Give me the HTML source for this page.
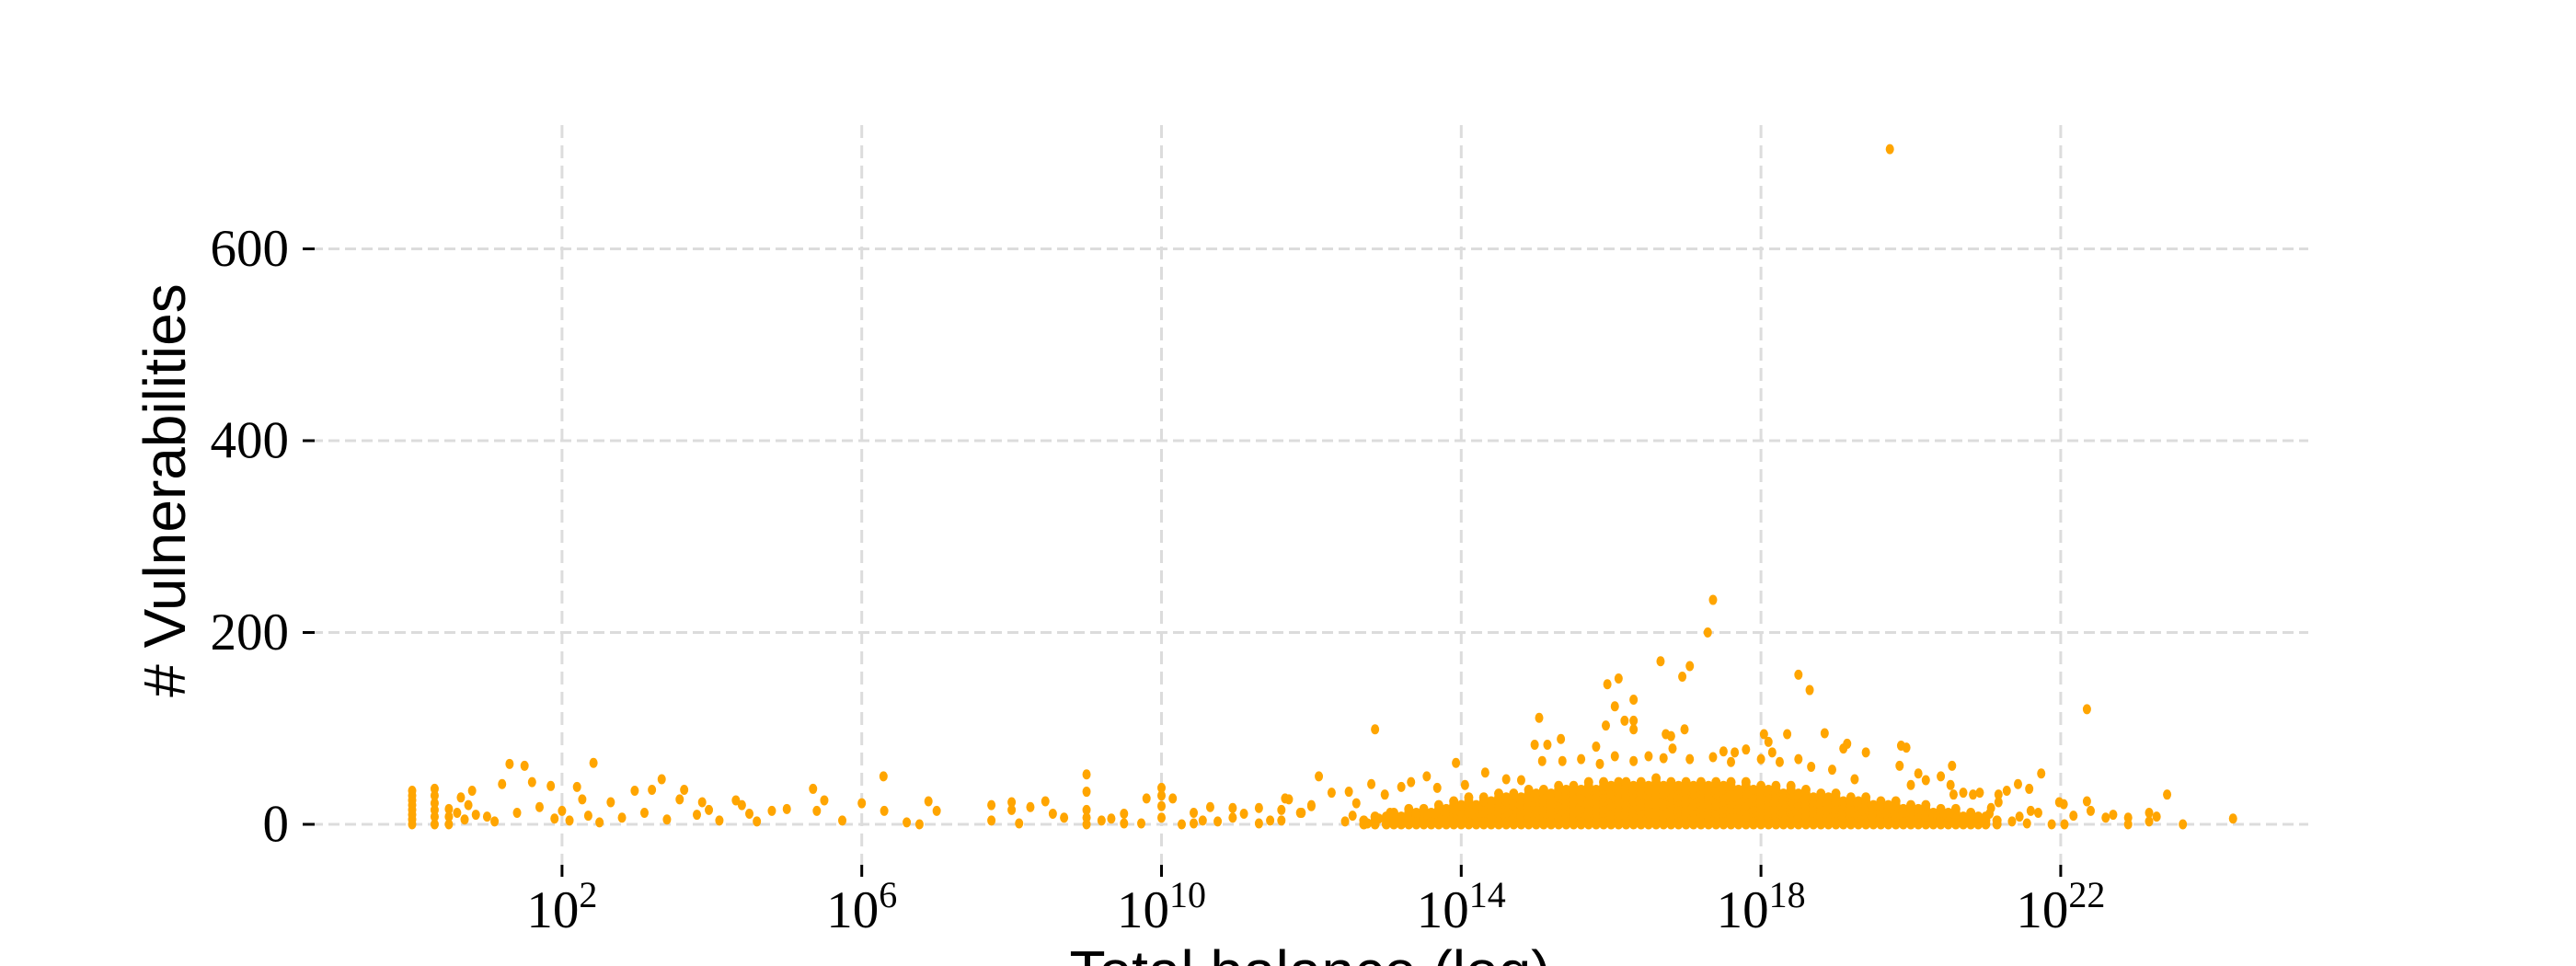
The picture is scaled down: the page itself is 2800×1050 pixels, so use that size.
<!DOCTYPE html>
<html><head><meta charset="utf-8"><style>
html,body{margin:0;padding:0;background:#fff;}
svg{display:block;}
</style></head><body>
<svg id="chart" width="2800" height="1050" viewBox="0 0 2800 1050" xmlns="http://www.w3.org/2000/svg">
<g id="grid"></g>
<g id="axes"></g>
<g id="points" fill="#FFA500"></g>
<text x="179" y="533" transform="rotate(-90 179 533)" text-anchor="middle" dominant-baseline="central" font-family="Liberation Sans, sans-serif" font-size="64" fill="#000"># Vulnerabilities</text>
<text x="1424" y="1078" text-anchor="middle" font-family="Liberation Sans, sans-serif" font-size="64" fill="#000">Total balance (log)</text>
</svg>
<script>
// data (log10 of x, y)
const xTickExps = [2, 6, 10, 14, 18, 22];
const yTicks = [0, 200, 400, 600];
const ptLogX = [0,0,0,0,0,0,0,0,0.3,0.3,0.3,0.3,0.3,0.3,0.49,0.49,0.49,0.6,0.65,0.7,0.75,0.8,0.85,
1.3,1.5,1.2,1.6,1.85,2.2,2.42,2.27,2.65,2.97,3.33,3.2,3.63,3.57,3.87,3.96,4.32,4.4,4.5,4.8,5.0,5.35,5.5,5.4,5.74,6.0,6.29,6.3,6.6,6.77,6.89,7.0,
1.0,1.1,1.4,1.7,1.9,2.0,2.1,2.35,2.5,2.8,3.1,3.4,3.8,4.1,4.6,
7.73,7.73,8.0,8.0,8.1,8.25,8.45,8.55,8.7,9.0,9.0,9.0,9.0,9.0,9.2,9.33,9.5,9.5,9.73,9.8,10.0,10.0,10.0,10.0,10.15,10.27,10.43,10.43,10.55,10.65,10.75,10.95,10.95,11.1,11.3,11.3,11.45,11.6,11.65,11.6,11.87,12.0,
19.72,17.36,17.29,16.66,17.05,16.95,18.5,18.65,15.95,16.1,16.3,16.05,22.35,12.85,15.04,15.93,16.18,16.3,16.3,16.73,16.8,16.98,18.04,18.35,18.85,14.98,15.15,15.33,15.8,16.05,16.82,17.5,17.65,17.8,18.1,18.15,19.15,19.1,19.4,19.87,19.94,13.93,12.1,20.55,19.85,20.1,20.4,21.74,21.43,21.58,23.42,24.3,23.63,23.18,23.18,23.28,22.9,22.9,22.7,22.6,22.4,22.35,22.17,22.04,21.98,22.05,21.88,21.7,21.6,21.28,21.17,21.17,21.07,20.92,20.83,20.7,20.57,20.53,20.2,20.0,13.54,13.33,13.2,12.8,12.27,12.5,12.98,11.7,12.0,11.85,12.6,13.68,14.32,14.6,14.05,14.8,15.35,15.6,15.08,15.85,16.3,16.5,16.7,17.05,17.36,17.6,18.0,18.25,18.5,18.67,18.95,19.25,
12.45,12.55,12.75,12.9,13.05,13.15,21.35,21.45,21.55,21.05,20.95];
const ptY = [0,5,10,15,20,25,30,35,0,8,15,22,30,37,0,8,16,12,28,5,20,35,10,
63,61,42,44,40,39,64,26,23,35,47,36,36,26,23,15,25,20,11,14,16,37,25,14,4,22,50,14,2,0,24,14,
8,3,12,18,6,14,4,9,2,7,12,5,10,4,3,
20,4,23,15,1,18,24,11,7,52,34,15,7,0,4,6,11,1,1,27,38,30,19,7,27,0,12,1,4,18,3,17,7,11,17,1,4,15,27,4,12,20,
704,234,200,170,165,154,156,140,146,152,130,123,120,99,111,103,108,108,99,94,92,99,94,94,95,83,83,89,81,71,79,76,75,78,86,75,84,79,75,82,80,64,50,61,61,53,50,53,42,37,31,6,0,12,3,8,7,0,10,7,14,24,9,21,23,0,0,12,14,35,31,23,17,33,31,33,31,41,46,41,50,44,39,42,33,34,31,26,19,12,22,38,54,47,41,46,66,68,66,63,66,71,69,68,70,65,68,65,68,60,57,47,
3,9,1,6,12,2,3,8,1,11,4];
// dense cluster: columns (log10 x) with top of solid mass
const blobLogX = [12.7,12.85,13.0,13.1,13.2,13.3,13.4,13.5,13.6,13.7,13.8,13.9,14.0,14.1,14.2,14.3,14.4,14.5,14.6,14.7,14.8,14.9,15.0,15.1,15.2,15.3,15.4,15.5,15.6,15.7,15.8,15.9,16.0,16.1,16.2,16.3,16.4,16.5,16.6,16.7,16.8,16.9,17.0,17.1,17.2,17.3,17.4,17.5,17.6,17.7,17.8,17.9,18.0,18.1,18.2,18.3,18.4,18.5,18.6,18.7,18.8,18.9,19.0,19.1,19.2,19.3,19.4,19.5,19.6,19.7,19.8,19.9,20.0,20.1,20.2,20.3,20.4,20.5,20.6,20.7,20.8,20.9,21.0,21.15];
const blobTop = [6,10,8,14,9,16,12,19,14,22,17,25,20,28,23,30,26,34,28,33,31,37,33,38,35,41,36,43,38,45,39,46,40,44,47,41,45,42,48,40,46,43,45,41,47,42,44,40,46,39,44,38,42,37,43,35,40,33,38,31,35,30,33,27,31,25,29,23,27,21,25,19,23,17,21,15,19,13,16,11,14,8,10,5];

const NS = 'http://www.w3.org/2000/svg';
const X0 = 448, DEC = 81.45, Y0 = 896, YU = 1.0425;
function xs(lx){ return X0 + DEC * lx; }
function ys(v){ return Y0 - YU * v; }
const grid = document.getElementById('grid');
const axes = document.getElementById('axes');
const pts = document.getElementById('points');
function mk(tag, attrs, parent){ const e = document.createElementNS(NS, tag); for (const k in attrs) e.setAttribute(k, attrs[k]); parent.appendChild(e); return e; }

yTicks.forEach(v => {
  const y = ys(v);
  const g = mk('line', {x1:339, x2:2509, y1:y, y2:y, stroke:'#dcdcdc', 'stroke-width':3, 'stroke-dasharray':'12,6'}, grid);
  
  
  const t = mk('line', {x1:329, x2:342, y1:y, y2:y, stroke:'#000', 'stroke-width':3}, axes);
  
  
  const lb = mk('text', {x:314, y:y, 'text-anchor':'end', 'dominant-baseline':'central', 'font-family':'Liberation Serif, serif', 'font-size':57}, axes);
  lb.textContent = String(v);
  
  
});
xTickExps.forEach(e => {
  const x = xs(e);
  const g = mk('line', {x1:x, x2:x, y1:136, y2:946, stroke:'#dcdcdc', 'stroke-width':3, 'stroke-dasharray':'14,8'}, grid);
  
  
  const t = mk('line', {x1:x, x2:x, y1:940, y2:953, stroke:'#000', 'stroke-width':3}, axes);
  
  
  const lb = mk('text', {x:x, y:1008, 'text-anchor':'middle', 'font-family':'Liberation Serif, serif', 'font-size':57}, axes);
  
  
  lb.appendChild(document.createTextNode('10'));
  const sup = document.createElementNS(NS, 'tspan');
  sup.setAttribute('font-size', 40);
  sup.setAttribute('dy', -22);
  sup.textContent = String(e);
  lb.appendChild(sup);
});
for (let i = 0; i < blobLogX.length; i++) {
  for (let v = 0; v <= blobTop[i]; v += 4) {
    const c = mk('ellipse', {cx: xs(blobLogX[i]), cy: ys(v), rx: 5, ry: 5.5}, pts);
    
    
  }
}
for (let i = 0; i < ptLogX.length; i++) {
  const c = mk('ellipse', {cx: xs(ptLogX[i]), cy: ys(ptY[i]), rx: 4.5, ry: 5.5}, pts);
  
  
}
</script>
</body></html>
